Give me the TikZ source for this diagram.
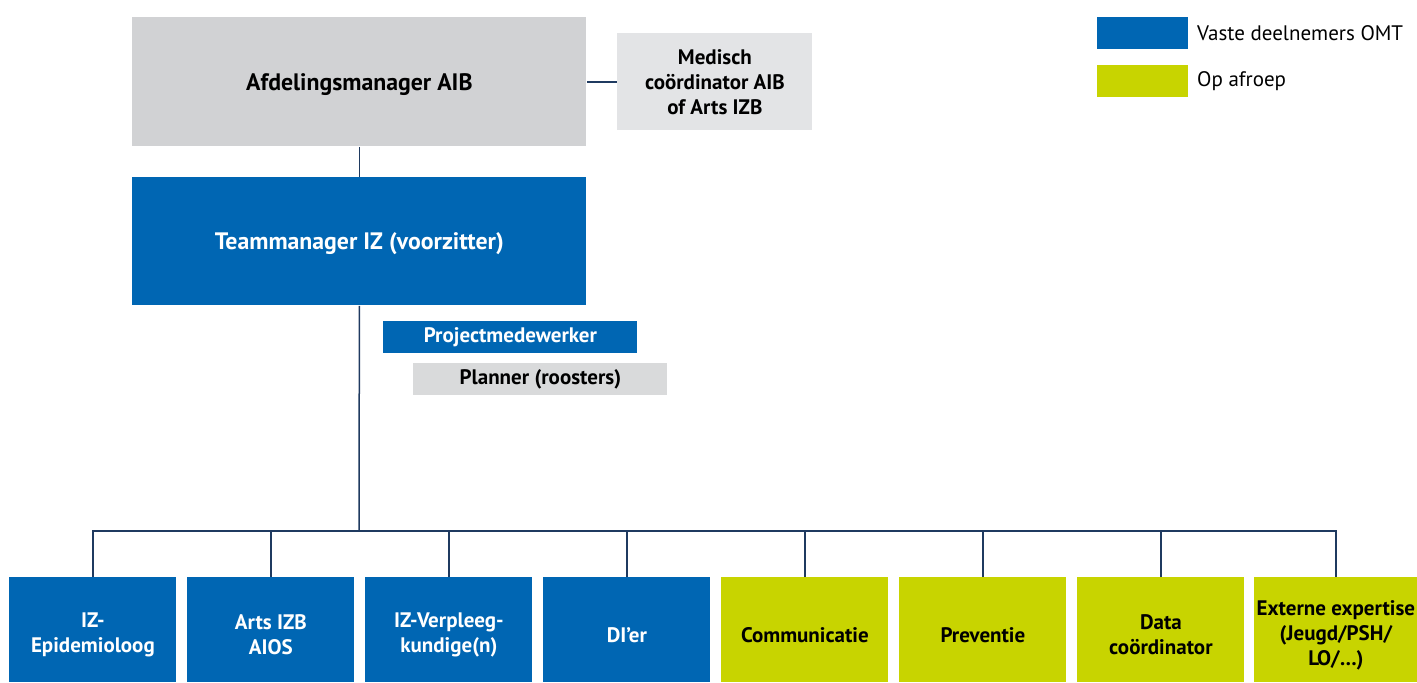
\documentclass[tikz,border=0pt]{standalone}
\usepackage{fontspec}
\setmainfont{PT Sans}
\usetikzlibrary{positioning}
\definecolor{omtblue}{HTML}{0066B3}
\definecolor{omtgreen}{HTML}{C8D400}
\definecolor{omtgrey}{HTML}{D1D2D4}
\definecolor{omtlight}{HTML}{E3E4E6}
\definecolor{omtplan}{HTML}{D9DADB}
\definecolor{omtline}{HTML}{1F3A60}

\tikzset{
  box/.style={anchor=north west, inner sep=0pt, align=center,
              font=\fontsize{10.5}{12.5}\selectfont\bfseries},
  big/.style={font=\fontsize{11.9}{14}\selectfont\bfseries},
  vast/.style={box, fill=omtblue, text=white},
  afroep/.style={box, fill=omtgreen},
  staf/.style={box, fill=omtgrey},
  link/.style={draw=omtline, line width=0.75pt},
  legtext/.style={font=\fontsize{10.5}{12.5}\selectfont, inner sep=0pt, anchor=west},
}

\begin{document}
\begin{tikzpicture}[x=0.5pt, y=-0.5pt]
\useasboundingbox (0,0) rectangle (1417,682);

% top of the chart
\node[staf, big, minimum width=227pt, minimum height=64.5pt] (am) at (132,17)
  {\rule{0pt}{11pt}Afdelingsmanager AIB};
\node[box, fill=omtlight, minimum width=97.5pt, minimum height=48.5pt] (mc) at (617,33)
  {Medisch\\co\"ordinator AIB\\of Arts IZB};
\node[vast, big, minimum width=227pt, minimum height=64pt] (tm) at (132,177)
  {\rule{0pt}{11pt}Teammanager IZ (voorzitter)};
\node[vast, minimum width=127pt, minimum height=16pt] (pm) at (383,321) {Projectmedewerker};
\node[box, fill=omtplan, minimum width=127pt, minimum height=16pt] (pl) at (413,363) {Planner (roosters)};

\draw[link] (am.east) -- (mc.west);
\draw[link] (am.south) -- (tm.north);
\coordinate (bus) at (359,531);
\draw[link] (tm.south) -- (bus);

% team
\foreach \i/\txt/\kind in {1/{IZ-\\Epidemioloog}/vast, 2/{Arts IZB\\AIOS}/vast,
    3/{IZ-Verpleeg-\\kundige(n)}/vast, 4/{DI’er}/vast, 5/{Communicatie}/afroep,
    6/{Preventie}/afroep, 7/{Data\\co\"ordinator}/afroep} {
  \node[\kind, minimum width=83.5pt, minimum height=52.5pt] (b\i) at ({9+178*(\i-1)},577)
    {\rule{0pt}{12.5pt}\txt};
  \draw[link] (b\i.north) |- (bus);
}
\node[afroep, minimum width=81.5pt, minimum height=52.5pt] (b8) at (1254,577)
  {\rule{0pt}{12.5pt}Externe expertise\\(Jeugd/PSH/\\LO/\dots)};
\draw[link] (b8.north) |- (bus);

% legend
\node[box, fill=omtblue, minimum width=45.5pt, minimum height=16pt] (legvast) at (1097,17) {};
\node[box, fill=omtgreen, minimum width=45.5pt, minimum height=16pt] (legafroep) at (1097,65) {};
\node[legtext, right=4pt of legvast] {Vaste deelnemers OMT};
\node[legtext, right=4pt of legafroep] {Op afroep};
\end{tikzpicture}
\end{document}
